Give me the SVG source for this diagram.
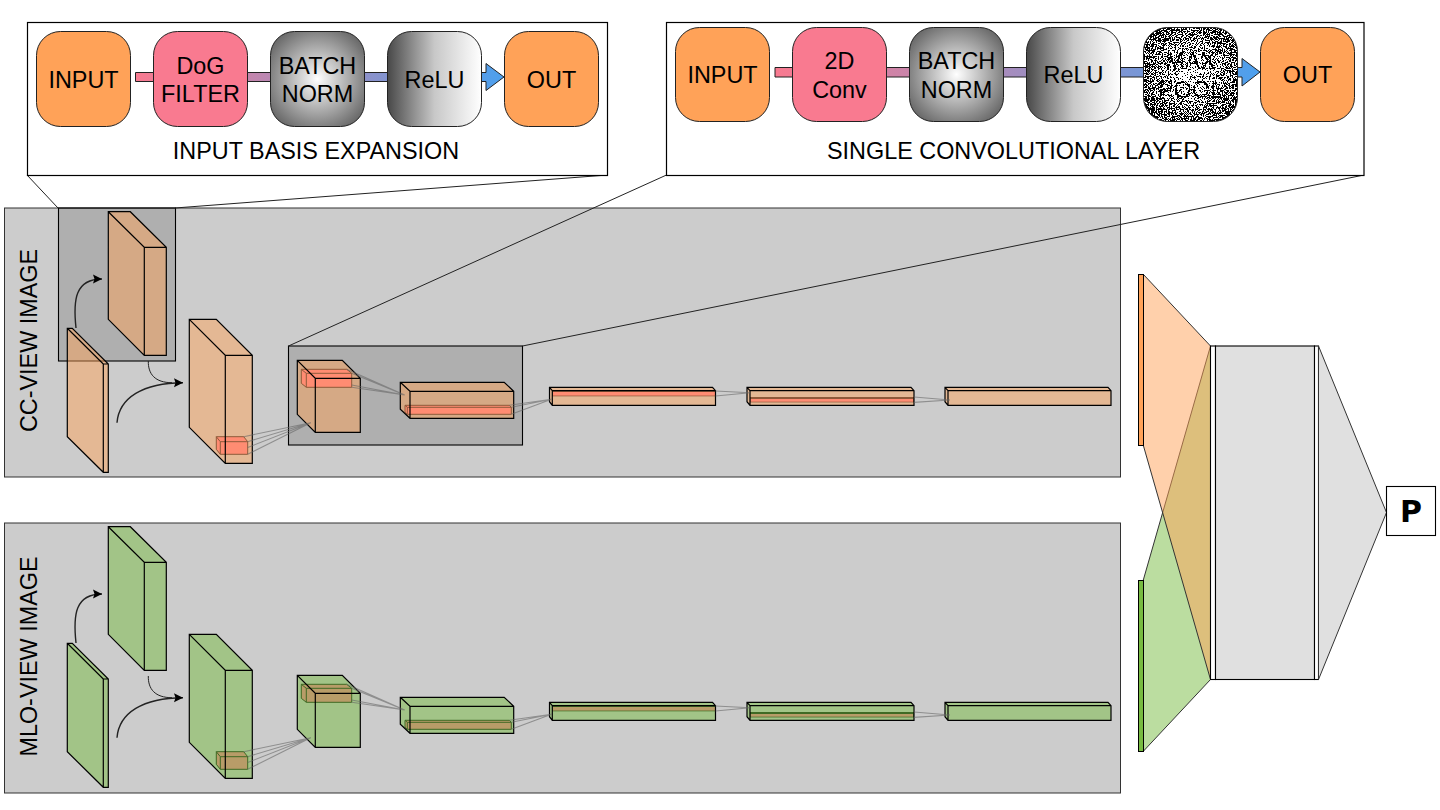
<svg xmlns="http://www.w3.org/2000/svg" width="1440" height="810" viewBox="0 0 1440 810">
<style>
text{font-family:"Liberation Sans",Arial,sans-serif;font-size:23.4px;fill:#000;text-anchor:middle}
.callout{fill:#fff;stroke:#000;stroke-width:1.2}
.step{stroke:#222;stroke-width:1}
.in{fill:#ffa258}.conv{fill:#f97a90}.bn{fill:url(#bnFill)}.relu{fill:url(#reluFill)}
.panel{fill:#ccc;stroke:#333;stroke-width:1}
.zoomed{fill:#000;fill-opacity:.14;stroke:#000;stroke-width:1.1}
.edge{fill:none;stroke:#000;stroke-width:1.2}
.o{fill:#ffa258;fill-opacity:.48}.g{fill:#77bb41;fill-opacity:.5}
.ro{fill:#ff8c72;stroke:#8e5a3a;stroke-width:1}
.rg{fill:#b89c68;stroke:#3f6a24;stroke-width:1}
.ro-e{fill:none;stroke:#8e5a3a;stroke-width:1}
.rg-e{fill:none;stroke:#3f6a24;stroke-width:1}
.ray{fill:none;stroke:#666;stroke-width:1.1;stroke-opacity:.6}
.flow{fill:none;stroke:#222;stroke-width:1.4;marker-end:url(#tip)}
.thin{fill:none;stroke:#222;stroke-width:1}
.leader{fill:none;stroke:#222;stroke-width:1}
</style>
<defs>
<radialGradient id="bnFill" r=".72"><stop offset="0" stop-color="#fff"/><stop offset="1" stop-color="#4a4a4a"/></radialGradient>
<linearGradient id="reluFill"><stop offset="0" stop-color="#484848"/><stop offset=".5" stop-color="#c8c8c8"/><stop offset="1" stop-color="#fff"/></linearGradient>
<radialGradient id="poolFill" r=".72"><stop offset="0" stop-color="#f4f4f4"/><stop offset=".3" stop-color="#aaa"/><stop offset="1" stop-color="#333"/></radialGradient>
<linearGradient id="pipeA" gradientUnits="userSpaceOnUse" x1="135" y1="0" x2="504" y2="0"><stop offset="0" stop-color="#f97a90"/><stop offset="1" stop-color="#4ca0ee"/></linearGradient>
<linearGradient id="pipeB" gradientUnits="userSpaceOnUse" x1="775" y1="0" x2="1260" y2="0"><stop offset="0" stop-color="#f97a90"/><stop offset="1" stop-color="#4ca0ee"/></linearGradient>
<filter id="dither" x="0" y="0" width="1" height="1" color-interpolation-filters="sRGB">
<feTurbulence type="fractalNoise" baseFrequency=".85" numOctaves="2" seed="4" result="n"/>
<feColorMatrix in="n" type="matrix" values="1 0 0 0 0 1 0 0 0 0 1 0 0 0 0 0 0 0 0 1" result="grain"/>
<feComposite in="SourceGraphic" in2="grain" operator="arithmetic" k1="0" k2="1" k3="3" k4="-1.5" result="sum"/>
<feComponentTransfer in="sum" result="bits"><feFuncR type="discrete" tableValues="0 1"/><feFuncG type="discrete" tableValues="0 1"/><feFuncB type="discrete" tableValues="0 1"/></feComponentTransfer>
<feComposite in="bits" in2="SourceAlpha" operator="in"/>
</filter>
<marker id="tip" markerUnits="userSpaceOnUse" markerWidth="10" markerHeight="10" refX="9" refY="5" orient="auto"><path d="M0 0.5L9 5L0 9.5L1.5 5Z" fill="#000"/></marker>
</defs>

<!-- view panels -->
<rect id="cc-panel" class="panel" x="4.500" y="208" width="1116" height="269"/>
<rect id="mlo-panel" class="panel" x="4.500" y="523" width="1116" height="270"/>
<text id="cc-label" transform="translate(37 340.500) rotate(-90)">CC-VIEW IMAGE</text>
<text id="mlo-label" transform="translate(37 656.500) rotate(-90)">MLO-VIEW IMAGE</text>

<!-- shaded regions that the callouts expand -->
<rect id="cc-input-zoom" class="zoomed" x="58.500" y="208" width="117" height="153"/>
<rect id="cc-layer-zoom" class="zoomed" x="288.500" y="346" width="234" height="99"/>

<!-- CC stream -->
<g id="cc-slab"><path class="o" d="M67.300 328.300H72.300L108.300 364V472.300H103.300L67.300 436.700Z"/><path class="edge" d="M67.300 328.300H72.300L108.300 364V472.300H103.300L67.300 436.700ZM67.300 328.300L103.300 364V472.300M103.300 364H108.300"/></g>
<g id="cc-dog"><path class="o" d="M108.300 211.700H130.300L166.300 247.300V355.300H144.300L108.300 319.300Z"/><path class="edge" d="M108.300 211.700H130.300L166.300 247.300V355.300H144.300L108.300 319.300ZM108.300 211.700L144.300 247.300V355.300M144.300 247.300H166.300"/></g>
<g id="cc-conv1"><path class="o" d="M189.300 319.300H216.300L252.300 355.300V463.300H225.300L189.300 427.300Z"/>
<path class="ro" d="M216.300 436.700H243.700L247.700 441.700V454.300H220.300L216.300 449.300Z"/><path class="ro-e" d="M216.300 436.700L220.300 441.700V454.300M220.300 441.700H247.700"/>
<path class="edge" d="M189.300 319.300H216.300L252.300 355.300V463.300H225.300L189.300 427.300ZM189.300 319.300L225.300 355.300V463.300M225.300 355.300H252.300"/></g>
<g id="cc-conv2"><path class="o" d="M297.300 360.300H342.300L360.300 378.300V432.300H315.300L297.300 414.300Z"/>
<path class="ro" d="M301.300 369.300H346.700L351.700 373.300V387.300H306.300L301.300 383.300Z"/><path class="ro-e" d="M301.300 369.300L306.300 373.300V387.300M306.300 373.300H351.700"/>
<path class="edge" d="M297.300 360.300H342.300L360.300 378.300V432.300H315.300L297.300 414.300ZM297.300 360.300L315.300 378.300V432.300M315.300 378.300H360.300"/></g>
<g id="cc-conv3"><path class="o" d="M400.300 382.300H504.200L513.700 391.300V418.300H410L400.300 409.300Z"/>
<path class="ro" d="M405 405.300H509.300L511.300 407.300V414.300H407.300L405 412.300Z"/><path class="ro-e" d="M405 405.300L407.300 407.300V414.300M407.300 407.300H511.300"/>
<path class="edge" d="M400.300 382.300H504.200L513.700 391.300V418.300H410L400.300 409.300ZM400.300 382.300L410 391.300V418.300M410 391.300H513.700"/></g>
<g id="cc-conv4"><path class="o" d="M549.500 387.300H712.500L715.500 390.700V405.300H552.300L549.500 401.700Z"/>
<rect x="552.300" y="390.700" width="163.200" height="5.600" fill="#8e5a3a"/><rect x="553" y="392" width="162.500" height="3.600" fill="#ff8c72"/>
<path class="edge" d="M549.500 387.300H712.500L715.500 390.700V405.300H552.300L549.500 401.700ZM549.500 387.300L552.300 390.700V405.300M552.300 390.700H715.500"/></g>
<g id="cc-conv5"><path class="o" d="M747 387.300H911L914 390.700V405.300H750L747 401.700Z"/>
<rect x="750" y="397" width="164" height="5.400" fill="#8e5a3a"/><rect x="750.500" y="399" width="162.500" height="2.700" fill="#ff8c72"/>
<path class="edge" d="M747 387.300H911L914 390.700V405.300H750L747 401.700ZM747 387.300L750 390.700V405.300M750 390.700H914"/></g>
<g id="cc-conv6"><path class="o" d="M945 387.300H1108L1111 390.700V405.300H948L945 401.700Z"/>
<path class="edge" d="M945 387.300H1108L1111 390.700V405.300H948L945 401.700ZM945 387.300L948 390.700V405.300M948 390.700H1111"/></g>

<!-- MLO stream -->
<g id="mlo-slab"><path class="g" d="M67.300 643.300H72.300L108.300 679V787.300H103.300L67.300 751.700Z"/><path class="edge" d="M67.300 643.300H72.300L108.300 679V787.300H103.300L67.300 751.700ZM67.300 643.300L103.300 679V787.300M103.300 679H108.300"/></g>
<g id="mlo-dog"><path class="g" d="M108.300 526.700H130.300L166.300 562.300V670.300H144.300L108.300 634.300Z"/><path class="edge" d="M108.300 526.700H130.300L166.300 562.300V670.300H144.300L108.300 634.300ZM108.300 526.700L144.300 562.300V670.300M144.300 562.300H166.300"/></g>
<g id="mlo-conv1"><path class="g" d="M189.300 634.300H216.300L252.300 670.300V778.300H225.300L189.300 742.300Z"/>
<path class="rg" d="M216.300 751.700H243.700L247.700 756.700V769.300H220.300L216.300 764.300Z"/><path class="rg-e" d="M216.300 751.700L220.300 756.700V769.300M220.300 756.700H247.700"/>
<path class="edge" d="M189.300 634.300H216.300L252.300 670.300V778.300H225.300L189.300 742.300ZM189.300 634.300L225.300 670.300V778.300M225.300 670.300H252.300"/></g>
<g id="mlo-conv2"><path class="g" d="M297.300 675.300H342.300L360.300 693.300V747.300H315.300L297.300 729.300Z"/>
<path class="rg" d="M301.300 684.300H346.700L351.700 688.300V702.300H306.300L301.300 698.300Z"/><path class="rg-e" d="M301.300 684.300L306.300 688.300V702.300M306.300 688.300H351.700"/>
<path class="edge" d="M297.300 675.300H342.300L360.300 693.300V747.300H315.300L297.300 729.300ZM297.300 675.300L315.300 693.300V747.300M315.300 693.300H360.300"/></g>
<g id="mlo-conv3"><path class="g" d="M400.300 697.300H504.200L513.700 706.300V733.300H410L400.300 724.300Z"/>
<path class="rg" d="M405 720.300H509.300L511.300 722.300V729.300H407.300L405 727.300Z"/><path class="rg-e" d="M405 720.300L407.300 722.300V729.300M407.300 722.300H511.300"/>
<path class="edge" d="M400.300 697.300H504.200L513.700 706.300V733.300H410L400.300 724.300ZM400.300 697.300L410 706.300V733.300M410 706.300H513.700"/></g>
<g id="mlo-conv4"><path class="g" d="M549.500 702.300H712.500L715.500 705.700V720.300H552.300L549.500 716.700Z"/>
<rect x="552.300" y="705.700" width="163.200" height="5.600" fill="#3f6a24"/><rect x="553" y="707" width="162.500" height="3.600" fill="#b89c68"/>
<path class="edge" d="M549.500 702.300H712.500L715.500 705.700V720.300H552.300L549.500 716.700ZM549.500 702.300L552.300 705.700V720.300M552.300 705.700H715.500"/></g>
<g id="mlo-conv5"><path class="g" d="M747 702.300H911L914 705.700V720.300H750L747 716.700Z"/>
<rect x="750" y="712" width="164" height="5.400" fill="#3f6a24"/><rect x="750.500" y="714" width="162.500" height="2.700" fill="#b89c68"/>
<path class="edge" d="M747 702.300H911L914 705.700V720.300H750L747 716.700ZM747 702.300L750 705.700V720.300M750 705.700H914"/></g>
<g id="mlo-conv6"><path class="g" d="M945 702.300H1108L1111 705.700V720.300H948L945 716.700Z"/>
<path class="edge" d="M945 702.300H1108L1111 705.700V720.300H948L945 716.700ZM945 702.300L948 705.700V720.300M948 705.700H1111"/></g>

<!-- fully connected head -->
<g id="merge-cc-mlo">
<path d="M1143.300 580L1210.500 346V679.500L1143.300 751.300Z" fill="#77bb41" fill-opacity=".5" stroke="#333" stroke-width="1"/>
<path d="M1143.300 274.300L1210.500 346V679.500L1143.300 445.300Z" fill="#ffa258" fill-opacity=".5" stroke="#333" stroke-width="1"/>
</g>
<g id="dense"><rect x="1210.500" y="346" width="5" height="333.500" fill="#fff" stroke="#000" stroke-width="1.100"/><rect x="1215.500" y="346" width="99" height="333.500" fill="#e0e0e0" stroke="#000" stroke-width="1.100"/><rect x="1314.500" y="346" width="4" height="333.500" fill="#fff" stroke="#000" stroke-width="1.100"/></g>
<path id="dense-out" d="M1318.500 346L1386.500 512.500L1318.500 679.500Z" fill="#e0e0e0" stroke="#333" stroke-width="1"/>
<rect id="cc-feature" x="1138.500" y="274.500" width="5" height="171" fill="#ffa258" stroke="#000" stroke-width="1"/>
<rect id="mlo-feature" x="1138.500" y="580.500" width="5" height="171" fill="#77bb41" stroke="#000" stroke-width="1"/>
<g id="prediction"><rect x="1386.500" y="486.500" width="49" height="49" fill="#fff" stroke="#000" stroke-width="1.100"/><text x="1411" y="522" style="font-family:'DejaVu Sans',sans-serif;font-weight:700;font-size:30px">P</text></g>

<g id="connectors">
<!-- receptive field rays -->
<path class="ray" d="M243.700 436.700L310.700 422.700M247.700 441.700L310.700 422.700M247.700 447.500L310.700 422.700M247.700 454.300L310.700 422.700"/>
<path class="ray" d="M346.700 369.300L404.700 395M351.700 373.300L404.700 395M351.700 387.300L404.700 395M351.700 385L404.700 395"/>
<path class="ray" d="M509.300 405.300L551.500 399.300M511.300 407.300L551.500 399.300M511.300 414.300L551.500 399.300"/>
<path class="ray" d="M715.500 391L750 392.700M715.500 396L750 392.700"/>
<path class="ray" d="M914 397L950 400M914 402.400L950 400"/>
<path class="ray" d="M243.700 751.700L310.700 737.700M247.700 756.700L310.700 737.700M247.700 762.500L310.700 737.700M247.700 769.300L310.700 737.700"/>
<path class="ray" d="M346.700 684.300L404.700 710M351.700 688.300L404.700 710M351.700 702.300L404.700 710M351.700 700L404.700 710"/>
<path class="ray" d="M509.300 720.300L551.500 714.300M511.300 722.300L551.500 714.300M511.300 729.300L551.500 714.300"/>
<path class="ray" d="M715.500 706L750 707.700M715.500 711L750 707.700"/>
<path class="ray" d="M914 712L950 715M914 717.400L950 715"/>
<!-- data flow -->
<path class="flow" d="M76 328C73 300 75 279 102 279"/>
<path class="flow" d="M117 422.700C119 398 143 382.700 183 382.700"/>
<path class="thin" d="M148.300 361C148 374 155 382.700 172 382.700"/>
<path class="flow" d="M76 643C73 615 75 594 102 594"/>
<path class="flow" d="M117 737.700C119 713 143 697.700 183 697.700"/>
<path class="thin" d="M148.300 676C148 689 155 697.700 172 697.700"/>
<!-- callout leaders -->
<path class="leader" d="M27 175L58 208M607.500 175L175 208M666.500 175L288.500 346M1364 175L522.500 346"/>
</g>

<!-- input basis expansion -->
<g id="basis-callout">
<rect class="callout" x="27.500" y="22.500" width="580" height="153"/>
<path d="M135.500 72.500H486V63.500L504 77L486 90.500V81.500H135.500Z" fill="url(#pipeA)" stroke="#222" stroke-width="1"/>
<g id="b-input"><rect class="step in" x="36.500" y="31.500" width="94" height="95" rx="24"/><text x="83.500" y="88">INPUT</text></g>
<g id="b-dog"><rect class="step conv" x="153.500" y="31.500" width="94" height="95" rx="24"/><text x="200.500" y="74">DoG</text><text x="200.500" y="102">FILTER</text></g>
<g id="b-bn"><rect class="step bn" x="270.500" y="31.500" width="94" height="95" rx="24"/><text x="317.500" y="74">BATCH</text><text x="317.500" y="102">NORM</text></g>
<g id="b-relu"><rect class="step relu" x="387.500" y="31.500" width="94" height="95" rx="24"/><text x="434.500" y="88">ReLU</text></g>
<g id="b-out"><rect class="step in" x="504.500" y="31.500" width="94" height="95" rx="24"/><text x="551.500" y="88">OUT</text></g>
<text x="316" y="159">INPUT BASIS EXPANSION</text>
</g>

<!-- single convolutional layer -->
<g id="layer-callout">
<rect class="callout" x="666.500" y="22.500" width="697.500" height="153"/>
<path d="M775 67.500H1242V58.500L1260 72L1242 86V77H775Z" fill="url(#pipeB)" stroke="#222" stroke-width="1"/>
<g id="l-input"><rect class="step in" x="675.500" y="27.500" width="94" height="94" rx="24"/><text x="722.500" y="83">INPUT</text></g>
<g id="l-conv"><rect class="step conv" x="792.500" y="27.500" width="94" height="94" rx="24"/><text x="839.500" y="69">2D</text><text x="839.500" y="97.500">Conv</text></g>
<g id="l-bn"><rect class="step bn" x="909.500" y="27.500" width="94" height="94" rx="24"/><text x="956.500" y="69">BATCH</text><text x="956.500" y="97.500">NORM</text></g>
<g id="l-relu"><rect class="step relu" x="1026.500" y="27.500" width="94" height="94" rx="24"/><text x="1073.500" y="83">ReLU</text></g>
<g id="l-pool"><g filter="url(#dither)"><rect x="1143.500" y="27.500" width="94" height="94" rx="24" fill="url(#poolFill)"/><text x="1190.500" y="69" opacity=".85">MAX</text><text x="1190.500" y="97.500" opacity=".85">POOL</text></g><rect x="1143.500" y="27.500" width="94" height="94" rx="24" fill="none" stroke="#222" stroke-width="1"/></g>
<g id="l-out"><rect class="step in" x="1260.500" y="27.500" width="94" height="94" rx="24"/><text x="1307.500" y="83">OUT</text></g>
<text x="1013.500" y="159">SINGLE CONVOLUTIONAL LAYER</text>
</g>
</svg>
